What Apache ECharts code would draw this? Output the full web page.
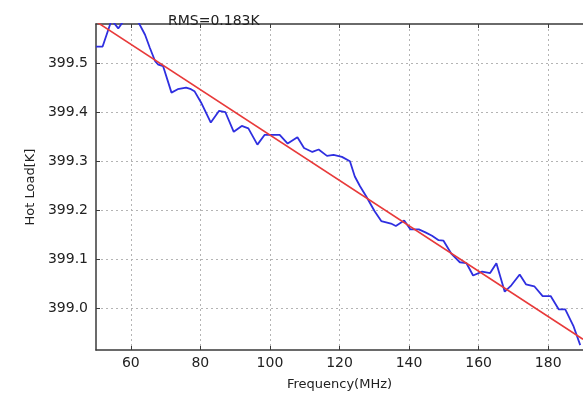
<!DOCTYPE html>
<html>
<head>
<meta charset="utf-8">
<script src="https://cdn.jsdelivr.net/npm/echarts@6/dist/echarts.min.js"></script>
<style>
html,body{margin:0;padding:0;background:#fff;}
#chart{width:583px;height:396px;}
</style>
</head>
<body>
<div id="chart"></div>
<script>
// Frequency (MHz) of the measured hot-load curve
var freq = [50, 51.9, 53.8, 54.5, 56.4, 58.3, 60.2, 62.1, 64.1, 65.5, 67, 67.9, 69.3, 71.7, 73.5, 75.9, 77.3, 78.3,
  80.2, 83, 85.4, 87.2, 89.6, 91.9, 93.8, 96.4, 98.5, 100.4, 102.8, 105.1, 107.9, 109.8, 112.2, 114, 116.4, 118.3,
  120.7, 123, 124.4, 125.9, 127.7, 130.1, 132, 134.8, 136.2, 138.6, 140.4, 142.8, 144.7, 146.6, 148.5, 149.9,
  152.2, 154.6, 156.5, 158.4, 161, 163.3, 165.1, 167.5, 169.4, 171.8, 173.6, 176, 178.4, 180.7, 183, 184.9,
  187.3, 189.2];
// Hot load temperature (K)
var hotLoad = [399.534, 399.534, 399.574, 399.588, 399.571, 399.59, 399.595, 399.585, 399.558, 399.531, 399.504,
  399.497, 399.494, 399.44, 399.447, 399.45, 399.447, 399.443, 399.42, 399.379, 399.403, 399.4, 399.36, 399.372,
  399.367, 399.334, 399.354, 399.354, 399.354, 399.336, 399.349, 399.327, 399.319, 399.324, 399.311, 399.313,
  399.309, 399.300, 399.269, 399.249, 399.228, 399.198, 399.178, 399.173, 399.168, 399.179, 399.161, 399.161,
  399.155, 399.148, 399.139, 399.138, 399.111, 399.094, 399.092, 399.067, 399.075, 399.072, 399.092, 399.034,
  399.047, 399.069, 399.049, 399.045, 399.025, 399.025, 398.998, 398.998, 398.963, 398.925];
// Linear fit end points
var fitFreq = [50, 190];
var fitLoad = [399.585, 398.937];
// Axis ticks
var xTicks = [60, 80, 100, 120, 140, 160, 180];
var yTicks = [399.0, 399.1, 399.2, 399.3, 399.4, 399.5];
var titleText = 'RMS=0.183K';

var chart = echarts.init(document.getElementById('chart'), null, {renderer: 'canvas'});
var font = 'DejaVu Sans';
var gridLine = {show: true, lineStyle: {color: '#b4b4b4', type: [2, 3], width: 1}};
var spine = {show: true, lineStyle: {color: '#3a3a3a', width: 1.5}};

chart.setOption({
  animation: false,
  backgroundColor: '#fff',
  title: {
    text: titleText, left: 163, top: 9,
    textStyle: {fontFamily: font, fontSize: 14, fontWeight: 'normal', color: '#222'}
  },
  grid: {left: 96, top: 24, width: 495, height: 330, containLabel: false},
  xAxis: [{
    type: 'value', min: 50, max: 190, position: 'bottom',
    name: 'Frequency(MHz)', nameLocation: 'middle', nameGap: 28,
    nameTextStyle: {fontFamily: font, fontSize: 13, color: '#222'},
    axisLine: spine,
    axisTick: {show: true, inside: true, length: 4, customValues: xTicks, lineStyle: {color: '#3a3a3a'}},
    axisLabel: {customValues: xTicks, fontFamily: font, fontSize: 14, color: '#222', margin: 6},
    splitLine: gridLine
  }, {
    type: 'value', min: 50, max: 190, position: 'top',
    axisLine: spine,
    axisTick: {show: true, inside: true, length: 4, customValues: xTicks, lineStyle: {color: '#3a3a3a'}},
    axisLabel: {show: false},
    splitLine: {show: false}
  }],
  yAxis: [{
    type: 'value', min: 398.915, max: 399.58,
    name: 'Hot Load[K]', nameLocation: 'middle', nameGap: 58, nameRotate: 90,
    nameTextStyle: {fontFamily: font, fontSize: 13, color: '#222'},
    axisLine: spine,
    axisTick: {show: true, inside: true, length: 4, customValues: yTicks, lineStyle: {color: '#3a3a3a'}},
    axisLabel: {customValues: yTicks, fontFamily: font, fontSize: 14, color: '#222', margin: 8,
      formatter: function (v) { return v.toFixed(1); }},
    splitLine: gridLine
  }],
  series: [{
    type: 'line', name: 'data', xAxisIndex: 0, yAxisIndex: 0,
    data: freq.map(function (f, i) { return [f, hotLoad[i]]; }),
    showSymbol: false, symbol: 'none', clip: true,
    lineStyle: {color: '#2f2fe0', width: 1.8}
  }, {
    type: 'line', name: 'fit', xAxisIndex: 0, yAxisIndex: 0,
    data: fitFreq.map(function (f, i) { return [f, fitLoad[i]]; }),
    showSymbol: false, symbol: 'none', clip: true,
    lineStyle: {color: '#e83a3a', width: 1.6}
  }]
});
</script>
</body>
</html>
